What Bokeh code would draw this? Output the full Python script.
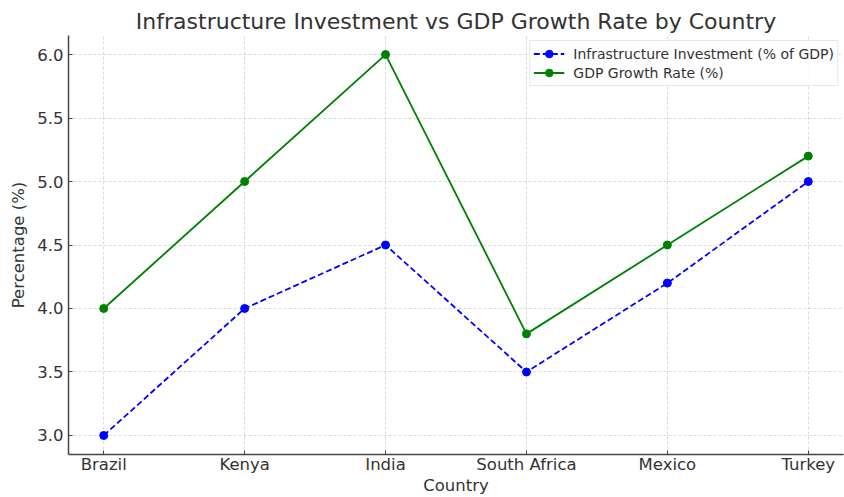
from bokeh.plotting import figure
from bokeh.models import Range1d, FixedTicker, NumeralTickFormatter, Legend
from bokeh.embed import file_html
from bokeh.resources import INLINE

countries = ["Brazil", "Kenya", "India", "South Africa", "Mexico", "Turkey"]
infra = [3.0, 4.0, 4.5, 3.5, 4.2, 5.0]
gdp = [4.0, 5.0, 6.0, 3.8, 4.5, 5.2]
y_ticks = [3.0, 3.5, 4.0, 4.5, 5.0, 5.5, 6.0]

xs = list(range(len(countries)))
FONT = "DejaVu Sans"
TXT = "#333333"

p = figure(width=844, height=497, output_backend="svg", toolbar_location=None,
           x_range=Range1d(-0.25, 5.25), y_range=Range1d(2.85, 6.15),
           min_border_left=68, min_border_right=1, min_border_top=35, min_border_bottom=0)

p.title.text = "Infrastructure Investment vs GDP Growth Rate by Country"
p.title.text_font = FONT
p.title.text_font_size = "22px"
p.title.text_font_style = "normal"
p.title.text_color = TXT
p.title.align = "center"
p.title.offset = 0
p.title.standoff = 4

p.outline_line_color = None

l1 = p.line(xs, infra, line_color="#0000ff", line_width=1.8, line_dash="6 3")
s1 = p.scatter(xs, infra, size=8, fill_color="#0000ff", line_color="#0000ff")
l2 = p.line(xs, gdp, line_color="#008000", line_width=1.8)
s2 = p.scatter(xs, gdp, size=8, fill_color="#008000", line_color="#008000")

legend = Legend(items=[("Infrastructure Investment (% of GDP)", [l1, s1]),
                       ("GDP Growth Rate (%)", [l2, s2])],
                location="top_right")
legend.label_text_font = FONT
legend.label_text_font_size = "14px"
legend.label_text_color = TXT
legend.border_line_color = "#d0d0d0"
legend.border_line_width = 1
legend.background_fill_alpha = 0.8
legend.margin = 5
legend.padding = 3
legend.spacing = 0
legend.glyph_width = 31
legend.label_standoff = 9
legend.label_height = 19
legend.glyph_height = 19
p.add_layout(legend, "center")

p.xaxis.ticker = FixedTicker(ticks=xs)
p.xaxis.major_label_overrides = {i: c for i, c in enumerate(countries)}
p.yaxis.ticker = FixedTicker(ticks=y_ticks)
p.yaxis.formatter = NumeralTickFormatter(format="0.0")

p.xaxis.axis_label = "Country"
p.yaxis.axis_label = "Percentage (%)"

for ax in (p.xaxis, p.yaxis):
    ax.axis_label_text_font = FONT
    ax.axis_label_text_font_size = "16.5px"
    ax.axis_label_text_font_style = "normal"
    ax.axis_label_text_color = TXT
    ax.axis_label_text_line_height = 0.65
    ax.major_label_text_font = FONT
    ax.major_label_text_font_size = "16.5px"
    ax.major_label_text_color = TXT
    ax.major_label_text_line_height = 0.9
    ax.axis_line_color = "#444444"
    ax.axis_line_width = 1.5
    ax.major_tick_line_color = "#444444"
    ax.major_tick_in = 4
    ax.major_tick_out = 0
    ax.minor_tick_line_color = None
p.xaxis.major_label_standoff = 0
p.xaxis.axis_label_standoff = -1
p.yaxis.major_label_standoff = 5
p.yaxis.axis_label_standoff = 6

for g in (p.xgrid, p.ygrid):
    g.grid_line_color = "#d0d0d0"
    g.grid_line_dash = "3 2"
    g.grid_line_width = 0.8
p.xgrid.ticker = FixedTicker(ticks=xs)
p.ygrid.ticker = FixedTicker(ticks=y_ticks)

open("out.html", "w").write(file_html(p, INLINE))
